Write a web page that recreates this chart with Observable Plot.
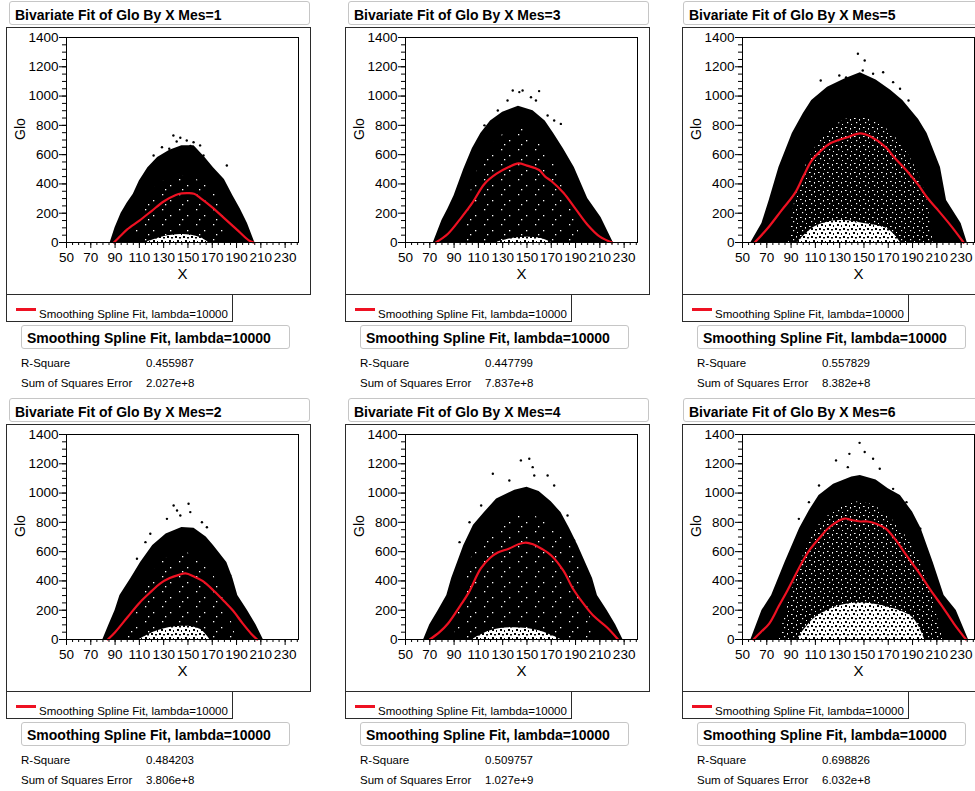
<!DOCTYPE html>
<html><head><meta charset="utf-8">
<script src="https://cdn.jsdelivr.net/npm/d3@7"></script>
<script src="https://cdn.jsdelivr.net/npm/@observablehq/plot@0.6"></script>
<style>
body{margin:0;background:#fff;width:975px;height:791px;overflow:hidden;position:relative;font-family:"Liberation Sans",Arial,sans-serif;color:#000}
.abs{position:absolute;box-sizing:border-box}
.tbox{border:1px solid #c6c6c6;border-radius:3px;background:#fff;font-weight:bold;font-size:14px;height:24px;line-height:25px;padding-top:1px;padding-left:5px;white-space:nowrap}
.sbox{border:1px solid #c6c6c6;border-radius:3px;background:#fff;font-weight:bold;font-size:14px;height:24px;line-height:23px;padding-top:1px;padding-left:5px;white-space:nowrap}
.frame{border:1.5px solid #2b2b2b;pointer-events:none}
.legend{border:1px solid #2b2b2b;background:#fff}
.ltext{font-size:11.5px;line-height:15px;white-space:nowrap}
.stat{font-size:11.5px;line-height:13px;white-space:nowrap}
</style></head><body>
<svg width="0" height="0" style="position:absolute;left:0;top:0"><defs>
<pattern id="spkLight" width="17" height="15" patternUnits="userSpaceOnUse">
<rect width="17" height="15" fill="#000"/>
<rect x="3" y="2" width="1.3" height="1.3" fill="#fff"/>
<rect x="11" y="8" width="1.3" height="1.3" fill="#fff"/>
<rect x="6" y="12" width="1.3" height="1.3" fill="#fff"/>
</pattern>
<pattern id="spkHeavy" width="9" height="9" patternUnits="userSpaceOnUse">
<rect width="9" height="9" fill="#000"/>
<rect x="1" y="1" width="1.6" height="1" fill="#fff"/>
<rect x="6" y="2" width="1" height="1.6" fill="#fff"/>
<rect x="3" y="5" width="1.2" height="1.2" fill="#fff"/>
<rect x="7" y="7" width="1" height="1" fill="#fff"/>
</pattern>
<pattern id="sparse" width="8" height="8" patternUnits="userSpaceOnUse">
<rect width="8" height="8" fill="#fff"/>
<rect x="1" y="1" width="2" height="2" fill="#000"/>
<rect x="5" y="2" width="2" height="1.5" fill="#000"/>
<rect x="3" y="5" width="2" height="2" fill="#000"/>
<rect x="7" y="6" width="1" height="2" fill="#000"/>
</pattern>
</defs></svg>
<script>
// ---- statistics (Mes 1..6) ----
const mesValues = [1, 2, 3, 4, 5, 6];
const rSquare = ["0.455987", "0.484203", "0.447799", "0.509757", "0.557829", "0.698826"];
const sse = ["2.027e+8", "3.806e+8", "7.837e+8", "1.027e+9", "8.382e+8", "6.032e+8"];
const fitName = "Smoothing Spline Fit, lambda=10000";
const xTickLabels = [50, 70, 90, 110, 130, 150, 170, 190, 210, 230];
const yTickLabels = [0, 200, 400, 600, 800, 1000, 1200, 1400];

// ---- upper envelope of the dense scatter cloud ----
const envX1 = [86, 90, 95, 100, 105, 110, 117, 125, 135, 145, 155, 164, 171, 180, 187, 193, 199, 205];
const envY1 = [0, 100, 200, 270, 330, 420, 510, 580, 630, 660, 660, 580, 510, 430, 320, 230, 130, 0];
const envX2 = [80, 85, 90, 94, 103, 111, 121, 132, 145, 155, 165, 171, 182, 187, 191, 199, 206, 212];
const envY2 = [0, 100, 198, 300, 416, 526, 642, 720, 765, 760, 700, 642, 526, 416, 300, 198, 100, 0];
const envX3 = [73, 80, 85, 90, 98, 105, 112, 120, 130, 143, 155, 165, 172, 180, 189, 200, 211, 221];
const envY3 = [0, 150, 230, 320, 500, 640, 745, 830, 890, 930, 900, 830, 745, 640, 512, 300, 170, 0];
const envX4 = [65, 70, 77, 84, 88, 98, 106, 115, 125, 140, 150, 160, 170, 178, 185, 192, 204, 208, 216, 223, 229];
const envY4 = [0, 100, 198, 300, 416, 642, 780, 867, 960, 1020, 1040, 1010, 940, 867, 760, 642, 416, 300, 198, 100, 0];
const envX5 = [57, 66, 72, 80, 91, 100, 107, 120, 135, 147, 160, 172, 182, 195, 202, 213, 218, 230, 235];
const envY5 = [0, 130, 287, 512, 745, 880, 970, 1060, 1120, 1160, 1110, 1040, 970, 840, 745, 512, 287, 130, 0];
const envX6 = [57, 66, 74, 85, 97, 105, 113, 125, 140, 147, 160, 170, 180, 190, 197, 207, 216, 226, 236];
const envY6 = [0, 198, 300, 526, 758, 880, 983, 1060, 1110, 1120, 1090, 1030, 983, 870, 758, 526, 300, 198, 0];

// ---- speckled interior of the cloud ----
const inX1 = [105, 120, 140, 160, 175, 185];
const inY1 = [0, 350, 450, 420, 300, 0];
const inX2 = [100, 120, 145, 170, 190];
const inY2 = [0, 450, 600, 450, 0];
const inX3 = [95, 115, 143, 170, 195];
const inY3 = [0, 600, 780, 600, 0];
const inX4 = [90, 110, 150, 185, 205];
const inY4 = [0, 650, 850, 650, 0];
const inX5 = [88, 95, 110, 130, 147, 165, 185, 200, 207];
const inY5 = [0, 350, 650, 820, 860, 800, 620, 350, 0];
const inX6 = [80, 95, 110, 130, 147, 165, 185, 200, 215];
const inY6 = [0, 450, 750, 900, 940, 880, 700, 450, 0];

// ---- sparse hollow near the bottom of the cloud ----
const holeX1 = [115, 130, 145, 160, 167];
const holeY1 = [0, 40, 55, 35, 0];
const holeX2 = [110, 125, 145, 160, 168];
const holeY2 = [0, 60, 90, 70, 0];
const holeX3 = [125, 140, 160, 170];
const holeY3 = [0, 30, 30, 0];
const holeX4 = [105, 120, 140, 160, 178];
const holeY4 = [0, 60, 80, 60, 0];
const holeX5 = [95, 110, 130, 150, 170, 180];
const holeY5 = [0, 110, 150, 130, 90, 0];
const holeX6 = [95, 110, 130, 150, 170, 190, 200];
const holeY6 = [0, 150, 230, 250, 220, 150, 0];

// ---- isolated outlying points above the cloud ----
const outX1 = [138, 143.7, 149, 154.6, 160, 128.6, 121.7, 162.8, 116, 182, 140.7, 152, 134.6, 137.3];
const outY1 = [731, 715, 697, 685, 663, 651, 594, 594, 405, 526, 690, 660, 640, 617];
const outX2 = [150.5, 138.2, 141, 151.9, 132.7, 161.5, 115, 108, 119, 143.7, 165.6, 184.8];
const outY2 = [927, 915, 881, 870, 824, 801, 665, 551, 722, 847, 767, 437];
const outX3 = [138.3, 143.7, 146.4, 160, 153.3, 134, 157.4, 115, 172.4, 177.9, 167, 126];
const outY3 = [1038, 1027, 1038, 1034, 992, 970, 970, 800, 833, 810, 867, 901];
const outX4 = [151.9, 145, 154.7, 121.9, 167, 172.4, 135.5, 102.7, 183.4, 188.8, 112.3, 156, 94.5];
const outY4 = [1234, 1223, 1177, 1132, 1120, 1052, 1086, 801, 847, 676, 915, 1120, 665];
const outX5 = [145, 150.6, 149, 114.4, 165.8, 174, 179.7, 109, 100.6, 129.7, 135.3, 157.5, 186.7, 79.7];
const outY5 = [1289, 1243, 1175, 1106, 1163, 1095, 1050, 924, 833, 1140, 1128, 1152, 970, 355];
const outX6 = [146.4, 127, 138, 157.5, 150.6, 136.7, 163, 104.7, 174, 185, 196.4, 113, 96.4];
const outY6 = [1343, 1223, 1268, 1234, 1280, 1177, 1166, 938, 1029, 938, 756, 1052, 824];

// ---- smoothing spline fit ----
const splX1 = [89, 95, 100, 110, 120, 130, 140, 145, 150, 155, 160, 170, 180, 190, 200, 204];
const splY1 = [0, 50, 90, 150, 215, 280, 325, 335, 337, 333, 305, 240, 165, 90, 15, 0];
const splX2 = [84, 90, 100, 110, 120, 127, 135, 142, 148, 155, 162, 171, 180, 187, 195, 202, 207];
const splY2 = [0, 50, 150, 250, 330, 382, 420, 440, 451, 430, 400, 335, 260, 198, 110, 40, 0];
const splX3 = [75, 85, 95, 105, 115, 125, 135, 143, 150, 160, 165, 170, 180, 190, 200, 210, 220];
const splY3 = [0, 60, 160, 270, 400, 470, 515, 540, 525, 495, 450, 420, 340, 230, 120, 40, 0];
const splX4 = [70, 78, 85, 95, 102, 112, 120, 126, 135, 143, 149, 155, 162, 170, 180, 188, 197, 205, 216, 225];
const splY4 = [0, 50, 109, 230, 320, 485, 560, 594, 620, 650, 662, 650, 620, 574, 470, 345, 240, 160, 82, 0];
const splX5 = [60, 70, 82, 93, 100, 107, 115, 122, 135, 147, 155, 168, 175, 185, 195, 202, 210, 222, 232];
const splY5 = [0, 90, 218, 335, 450, 560, 630, 676, 715, 745, 725, 650, 580, 492, 390, 307, 230, 110, 0];
const splX6 = [59, 65, 72, 80, 87, 99, 106, 113, 122, 134, 140, 147, 153, 160, 168, 177, 185, 195, 205, 215, 224, 234];
const splY6 = [0, 50, 109, 230, 335, 526, 620, 690, 770, 826, 815, 806, 806, 790, 758, 670, 574, 460, 335, 220, 109, 0];

const envs = [[envX1, envY1], [envX2, envY2], [envX3, envY3], [envX4, envY4], [envX5, envY5], [envX6, envY6]];
const inners = [[inX1, inY1], [inX2, inY2], [inX3, inY3], [inX4, inY4], [inX5, inY5], [inX6, inY6]];
const holes = [[holeX1, holeY1], [holeX2, holeY2], [holeX3, holeY3], [holeX4, holeY4], [holeX5, holeY5], [holeX6, holeY6]];
const outs = [[outX1, outY1], [outX2, outY2], [outX3, outY3], [outX4, outY4], [outX5, outY5], [outX6, outY6]];
const spls = [[splX1, splY1], [splX2, splY2], [splX3, splY3], [splX4, splY4], [splX5, splY5], [splX6, splY6]];
const toRows = ([xs, ys]) => xs.map((x, i) => ({x, y: ys[i]}));

const RED = "#ee1122";
const tickFont = "'Liberation Sans Narrow','Arial Narrow','Liberation Sans',Arial,sans-serif";
const mainFont = "'Liberation Sans',Arial,sans-serif";

function el(cls, left, top, w, h, text) {
  const d = document.createElement("div");
  d.className = "abs " + cls;
  d.style.left = left + "px"; d.style.top = top + "px";
  if (w != null) d.style.width = w + "px";
  if (h != null) d.style.height = h + "px";
  if (text != null) d.textContent = text;
  document.body.appendChild(d);
  return d;
}

mesValues.forEach((m, i) => {
  const col = Math.floor(i / 2), row = i % 2;
  const fx = [6, 345, 682][col], fy = 27 + 397 * row;

  el("tbox", fx + (col === 2 ? 1 : 3), fy - 26, 301, null, `Bivariate Fit of Glo By X Mes=${m}`);

  const chart = Plot.plot({
    width: 305, height: 267,
    marginLeft: 60, marginRight: 13, marginTop: 10, marginBottom: 52,
    x: {domain: [50, 241]},
    y: {domain: [0, 1400]},
    style: {fontFamily: tickFont, fontSize: "13.5px", background: "transparent", color: "#000", overflow: "visible"},
    marks: [
      Plot.areaY(toRows(envs[i]), {x: "x", y: "y", fill: "#000"}),
      Plot.areaY(toRows(inners[i]), {x: "x", y: "y", fill: m >= 5 ? "url(#spkHeavy)" : "url(#spkLight)", curve: "catmull-rom"}),
      Plot.areaY(toRows(holes[i]), {x: "x", y: "y", fill: "url(#sparse)", curve: "catmull-rom"}),
      Plot.dot(toRows(outs[i]), {x: "x", y: "y", r: 1.2, fill: "#000"}),
      Plot.line(toRows(spls[i]), {x: "x", y: "y", stroke: RED, strokeWidth: 2.2, curve: "catmull-rom"}),
      Plot.frame({stroke: "#000", strokeWidth: 1}),
      Plot.axisY({ticks: d3.range(0, 1401, 50), tickSize: 4, tickFormat: () => "", label: null}),
      Plot.axisY({ticks: yTickLabels, tickSize: 7, tickPadding: 1, tickFormat: d => String(d), label: null}),
      Plot.axisX({ticks: d3.range(50, 241, 5), tickSize: 3, tickFormat: () => "", label: null}),
      Plot.axisX({ticks: xTickLabels, tickSize: 6, tickPadding: 4, tickFormat: d => String(d), label: null}),
      Plot.text(["Glo"], {text: d => d, frameAnchor: "left", dx: -46, rotate: -90, fontSize: 14, fontFamily: mainFont}),
      Plot.text(["X"], {text: d => d, frameAnchor: "bottom", dy: 36, fontSize: 15, fontFamily: mainFont})
    ]
  });
  const holder = el("", fx, fy, 305, 267);
  holder.appendChild(chart);
  el("frame", fx, fy, 305, 268);

  const leg = el("legend", fx, fy + 267, 227, 28);
  const line = el("", 9, 13.3, 20, 2.5); line.style.background = RED; leg.appendChild(line);
  const lt = el("ltext", 32, 11.8, null, null, fitName); leg.appendChild(lt);

  el("sbox", fx + 15, fy + 298, 269, null, fitName);
  el("stat", fx + 15, fy + 330, null, null, "R-Square");
  el("stat", fx + 140, fy + 330, null, null, rSquare[i]);
  el("stat", fx + 15, fy + 349.5, null, null, "Sum of Squares Error");
  el("stat", fx + 140, fy + 349.5, null, null, sse[i]);
});
</script></body></html>
